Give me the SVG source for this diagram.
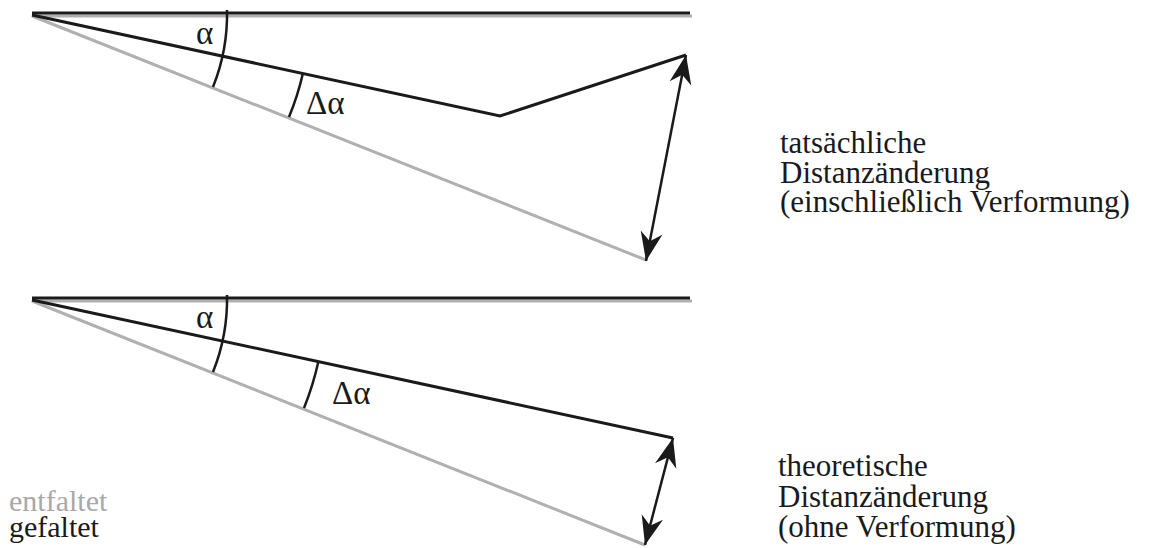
<svg xmlns="http://www.w3.org/2000/svg" width="1149" height="548" viewBox="0 0 1149 548">
<style>
.blk{stroke:#1a1a1a;stroke-width:3;fill:none}
.gry{stroke:#b0b0b0;stroke-width:3;fill:none}
.arc{stroke:#1a1a1a;stroke-width:2.5;fill:none}
.arr{stroke:#1a1a1a;stroke-width:2.5;fill:none;marker-start:url(#ah);marker-end:url(#ah)}
.greek{font-family:"Liberation Serif","Times New Roman",serif;font-size:33px;fill:#1a1a1a}
.lab{font-family:"Liberation Serif","Times New Roman",serif;font-size:31px;fill:#1a1a1a}
</style>
<defs>
<marker id="ah" viewBox="-31 -12 32 24" markerWidth="32" markerHeight="24" refX="0" refY="0" orient="auto-start-reverse" markerUnits="userSpaceOnUse">
<path d="M0,0 L-29,-11 L-20,0 L-29,11 Z" fill="#1a1a1a"/>
</marker>
</defs>
<rect width="1149" height="548" fill="#fff"/>
<g id="top-figure">
<line class="gry" x1="32" y1="16" x2="692" y2="16"/>
<line class="blk" x1="32" y1="13" x2="690" y2="13"/>
<line class="gry" x1="32" y1="16" x2="646" y2="260"/>
<polyline class="blk" points="32,15 500,116 686,55"/>
<path class="arc" d="M227,10 A195,195 0 0 1 213,87"/>
<path class="arc" d="M303,73 A277,277 0 0 1 289,117"/>
<text class="greek" x="196" y="44">α</text>
<text class="greek" x="306" y="114">Δα</text>
</g>
<g id="bottom-figure">
<line class="gry" x1="32" y1="301" x2="692" y2="301"/>
<line class="blk" x1="32" y1="298" x2="690" y2="298"/>
<line class="gry" x1="32" y1="301" x2="645" y2="545"/>
<line class="blk" x1="32" y1="300" x2="673" y2="438"/>
<path class="arc" d="M227,295 A195,195 0 0 1 213,372"/>
<path class="arc" d="M318.5,361 A293,293 0 0 1 304,408"/>
<text class="greek" x="196" y="328">α</text>
<text class="greek" x="332" y="404">Δα</text>
</g>
<g id="connectors">
<line class="arr" x1="686" y1="55" x2="646" y2="261"/>
<line class="arr" x1="673" y1="438" x2="645" y2="545"/>
</g>
<g id="label-actual">
<text class="lab" x="780" y="153">tatsächliche</text>
<text class="lab" x="780" y="183">Distanzänderung</text>
<text class="lab" x="780" y="212">(einschließlich Verformung)</text>
</g>
<g id="label-theoretical">
<text class="lab" x="778" y="476">theoretische</text>
<text class="lab" x="778" y="507">Distanzänderung</text>
<text class="lab" x="778" y="537">(ohne Verformung)</text>
</g>
<g id="legend">
<text class="lab" x="9" y="511" style="fill:#a8a8a8;font-size:30px">entfaltet</text>
<text class="lab" x="9" y="537" style="font-size:30px">gefaltet</text>
</g>
</svg>
